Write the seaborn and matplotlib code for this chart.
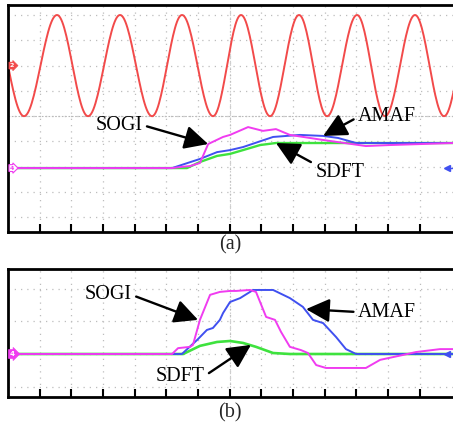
import numpy as np
import pandas as pd
import matplotlib
matplotlib.use("Agg")
import matplotlib.pyplot as plt
import seaborn as sns

# ---------------- data (divisions) ----------------
# top panel: red sine extrema (x in div, level)
red_ext_x = [-0.505, 0.505, 1.547, 2.526, 3.537, 4.547, 5.494, 6.473, 7.357,
             8.273, 9.189, 10.073, 11.020, 11.904, 12.851, 13.767, 14.68]
red_ext_y = [4, 0, 4, 0, 4, 0, 4, 0, 4, 0, 4, 0, 4, 0, 4, 0, 4]

top_sogi_x = [0, 5.18, 5.50, 5.75, 6.06, 6.32, 6.79, 7.01, 7.58, 8.05, 8.46, 8.90, 9.95, 11.30, 12.06, 14.05]
top_sogi_y = [-2.05, -2.05, -2.0, -1.97, -1.85, -1.10, -0.82, -0.74, -0.43, -0.58, -0.51, -0.74, -0.94, -1.18, -1.14, -1.06]

top_amaf_x = [0, 5.18, 6.06, 6.60, 7.01, 7.42, 8.37, 9.22, 9.95, 10.42, 10.99, 14.05]
top_amaf_y = [-2.05, -2.05, -1.69, -1.42, -1.34, -1.22, -0.82, -0.74, -0.78, -0.86, -1.06, -1.06]

top_sdft_x = [0, 5.65, 6.06, 6.60, 7.01, 7.42, 7.96, 8.46, 14.05]
top_sdft_y = [-2.05, -2.05, -1.81, -1.57, -1.49, -1.34, -1.14, -1.06, -1.06]

# bottom panel
bot_sogi_x = [0, 5.18, 5.37, 5.75, 5.84, 6.06, 6.38, 6.69, 7.01, 7.20, 7.64, 7.83, 8.15, 8.43,
              8.62, 8.90, 9.25, 9.47, 9.73, 10.04, 11.30, 11.75, 12.47, 12.88, 13.64, 14.05]
bot_sogi_y = [0, 0, 0.18, 0.22, 0.28, 1.05, 1.82, 1.91, 1.94, 1.94, 1.97, 1.91, 1.14, 1.05,
              0.68, 0.22, 0.12, 0.03, -0.34, -0.43, -0.43, -0.18, -0.03, 0.06, 0.15, 0.15]

bot_amaf_x = [0, 5.49, 5.97, 6.28, 6.47, 6.69, 6.79, 7.01, 7.33, 7.74, 8.37, 8.90, 9.31,
              9.63, 9.95, 10.36, 10.67, 10.99, 14.05]
bot_amaf_y = [0, 0, 0.43, 0.74, 0.80, 1.05, 1.26, 1.60, 1.72, 1.97, 1.97, 1.72, 1.45,
              1.05, 0.95, 0.52, 0.15, 0, 0]

bot_sdft_x = [0, 5.53, 6.06, 6.60, 7.01, 7.42, 7.83, 8.37, 8.90, 14.05]
bot_sdft_y = [0, 0, 0.25, 0.37, 0.40, 0.34, 0.22, 0.03, 0, 0]

labels = ["SOGI", "AMAF", "SDFT"]

# ---------------- style ----------------
sns.set_theme(style="white")
plt.rcParams['font.family'] = ['Liberation Serif', 'DejaVu Serif']

RED = '#f24a4a'
MAG = '#f03cf0'
BLUE = '#4050f0'
GREEN = '#3ee23e'

W, H = 453, 434
fig = plt.figure(figsize=(W / 100, H / 100), dpi=100)

def px_axes(x0, y0, x1, y1):
    return fig.add_axes([x0 / W, 1 - y1 / H, (x1 - x0) / W, (y1 - y0) / H])

ax1 = px_axes(8, 5, 453, 232)
ax2 = px_axes(8, 269, 453, 397)

def style_axes(ax, yticks, ylim):
    ax.set_xlim(0, 14.05)
    ax.set_ylim(*ylim)
    ax.set_xticks(range(1, 14))
    ax.set_yticks(yticks)
    ax.grid(True, color='#bdbdbd', linestyle=(0, (1, 4)), linewidth=0.9)
    ax.axvline(7, color='#cccccc', linestyle=(0, (1.5, 1.5)), linewidth=0.8, zorder=0.5)
    ax.tick_params(axis='x', direction='in', length=6, width=1.5, color='black',
                   labelbottom=False, bottom=True, top=False)
    ax.tick_params(axis='y', length=0, labelleft=False)
    for s in ['left', 'top', 'bottom']:
        ax.spines[s].set_visible(True)
        ax.spines[s].set_color('black')
        ax.spines[s].set_linewidth(2.0)
    ax.spines['right'].set_visible(False)
    ax.set_xlabel('')
    ax.set_ylabel('')

style_axes(ax1, range(-4, 5), (-4.577, 4.395))
style_axes(ax2, range(-1, 3), (-1.323, 2.615))
ax1.axhline(0, color='#b8b8b8', linestyle=(0, (1.5, 1.5)), linewidth=0.8, zorder=0.5)

# red sine built from read extrema (half-cosine between successive extrema)
rx, ry = [], []
for i in range(len(red_ext_x) - 1):
    t = np.linspace(0, 1, 30, endpoint=False)
    xa, xb = red_ext_x[i], red_ext_x[i + 1]
    ya, yb = red_ext_y[i], red_ext_y[i + 1]
    rx.extend(xa + (xb - xa) * t)
    ry.extend(ya + (yb - ya) * (1 - np.cos(np.pi * t)) / 2)
red_df = pd.DataFrame({'x': rx, 'y': ry})
sns.lineplot(data=red_df, x='x', y='y', ax=ax1, color=RED, lw=1.4, sort=False)

def draw(ax, x, y, c, lw=1.4):
    sns.lineplot(x=x, y=y, ax=ax, color=c, lw=lw, sort=False)

draw(ax1, top_sdft_x, top_sdft_y, GREEN, 1.7)
draw(ax1, top_amaf_x, top_amaf_y, BLUE)
draw(ax1, top_sogi_x, top_sogi_y, MAG)

draw(ax2, bot_sdft_x, bot_sdft_y, GREEN, 1.9)
draw(ax2, bot_amaf_x, bot_amaf_y, BLUE)
draw(ax2, bot_sogi_x, bot_sogi_y, MAG)

for ax in (ax1, ax2):
    ax.set_xlim(0, 14.05)
    ax.set_xlabel('')
    ax.set_ylabel('')

ax1.set_ylim(-4.577, 4.395)
ax2.set_ylim(-1.323, 2.615)

# channel markers
ax1.text(0.06, 2.0, '2', fontsize=4.5, color='white', fontweight='bold', va='center', ha='left',
         family='DejaVu Sans',
         bbox=dict(boxstyle='rarrow,pad=0.15', fc=RED, ec=RED, lw=0.5), zorder=5)
ax1.text(0.06, -2.05, '4', fontsize=4.5, color=MAG, fontweight='bold', va='center', ha='left',
         family='DejaVu Sans',
         bbox=dict(boxstyle='rarrow,pad=0.15', fc='white', ec=MAG, lw=0.8), zorder=5)
ax2.text(0.06, 0.0, '4', fontsize=5, color='white', fontweight='bold', va='center', ha='left',
         family='DejaVu Sans',
         bbox=dict(boxstyle='rarrow,pad=0.2', fc=MAG, ec=MAG, lw=0.5), zorder=5)
ax1.plot([13.85], [-2.05], marker='<', color=BLUE, ms=4, zorder=5)
ax1.plot([13.85, 14.05], [-2.05, -2.05], color=BLUE, lw=1, zorder=5)
ax2.plot([13.85], [0.0], marker='<', color=BLUE, ms=5, zorder=5)

# annotations
arrow = dict(arrowstyle='-|>,head_length=0.9,head_width=0.45', color='black', lw=1.7,
             mutation_scale=16, shrinkA=1, shrinkB=0)
FS = 14.5

def ann(ax, txt, xy, xytext, relpos):
    a = dict(arrow)
    a['relpos'] = relpos
    ax.annotate(txt, xy=xy, xytext=xytext, textcoords='data', ha='center', va='center',
                fontsize=FS, color='black', arrowprops=a, zorder=6)

ann(ax1, 'SOGI', (6.32, -1.10), (3.50, -0.35), (1.0, 0.5))
ann(ax1, 'AMAF', (9.95, -0.78), (11.97, -0.03), (0.0, 0.5))
ann(ax1, 'SDFT', (8.46, -1.06), (10.48, -2.21), (0.0, 0.9))

ann(ax2, 'SOGI', (6.0, 1.05), (3.16, 1.82), (1.0, 0.5))
ann(ax2, 'SDFT', (7.67, 0.28), (5.43, -0.68), (1.0, 0.5))
ann(ax2, 'AMAF', (9.41, 1.38), (11.97, 1.29), (0.0, 0.5))

fig.text(230 / W, 1 - 245 / H, '(a)', ha='center', va='center', fontsize=FS)
fig.text(230 / W, 1 - 413 / H, '(b)', ha='center', va='center', fontsize=FS)

fig.savefig('out.png', dpi=100, facecolor='white')
